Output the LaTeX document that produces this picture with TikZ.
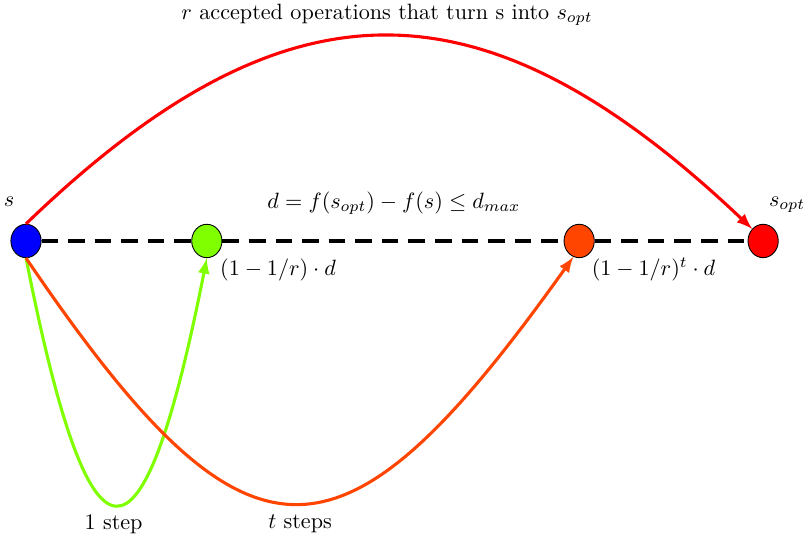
\documentclass[tikz,border=0pt]{standalone}
\usetikzlibrary{shapes.geometric}

\definecolor{chartreuse}{RGB}{127,255,0}
\definecolor{orangered}{RGB}{255,69,0}

\begin{document}
\begin{tikzpicture}[>=latex,
        state/.style={draw=black, thin, ellipse, inner sep=0pt, minimum width=0.48cm, minimum height=0.53cm},
        move/.style={->, line width=1.4pt},
        gap/.style={line width=1.8pt, dash pattern=on 7.5pt off 4.5pt}]
    \useasboundingbox (-0.413,-4.778) rectangle (12.444,3.825);

    \draw node[state, fill=blue] (node1) at (0,0) {};
    \draw node[state, fill=chartreuse] (node2) at (2.87,0) {};
    \draw node[state, fill=orangered] (node3) at (8.78,0) {};
    \draw node[state, fill=red] (node4) at (11.70,0) {};

    \draw node (label1) at (-0.27,0.63) {$s$};
    \draw node (label2) at (12.08,0.57) {$s_{opt}$};
    \draw node (label3) at (5.84,0.60) {$d = f(s_{opt}) - f(s) \leq d_{max}$};
    \draw node (label4) at (4.0,-0.46) {$(1-1/r)\cdot d$};
    \draw node (label5) at (9.96,-0.46) {$(1-1/r)^t\cdot d$};
    \draw node (label6) at (5.73,3.59) {$r$ accepted operations that turn s into $s_{opt}$};
    \draw node (label7) at (1.39,-4.49) {1 step};
    \draw node (label8) at (4.35,-4.49) {$t$ steps};

    \draw[gap] (node1) -- (node2) -- (node3) -- (node4);

    \draw[move, red] (node1.north) .. controls +(4.13,3.98) and +(-4.29,4.07) .. (node4.north west);
    \draw[move, chartreuse] (node1.south) .. controls +(1.03,-5.22) and +(-1.03,-5.21) .. (node2.south);
    \draw[move, orangered] (node1.south) .. controls +(3.54,-5.21) and +(-3.70,-5.19) .. (node3.-110);
\end{tikzpicture}
\end{document}
